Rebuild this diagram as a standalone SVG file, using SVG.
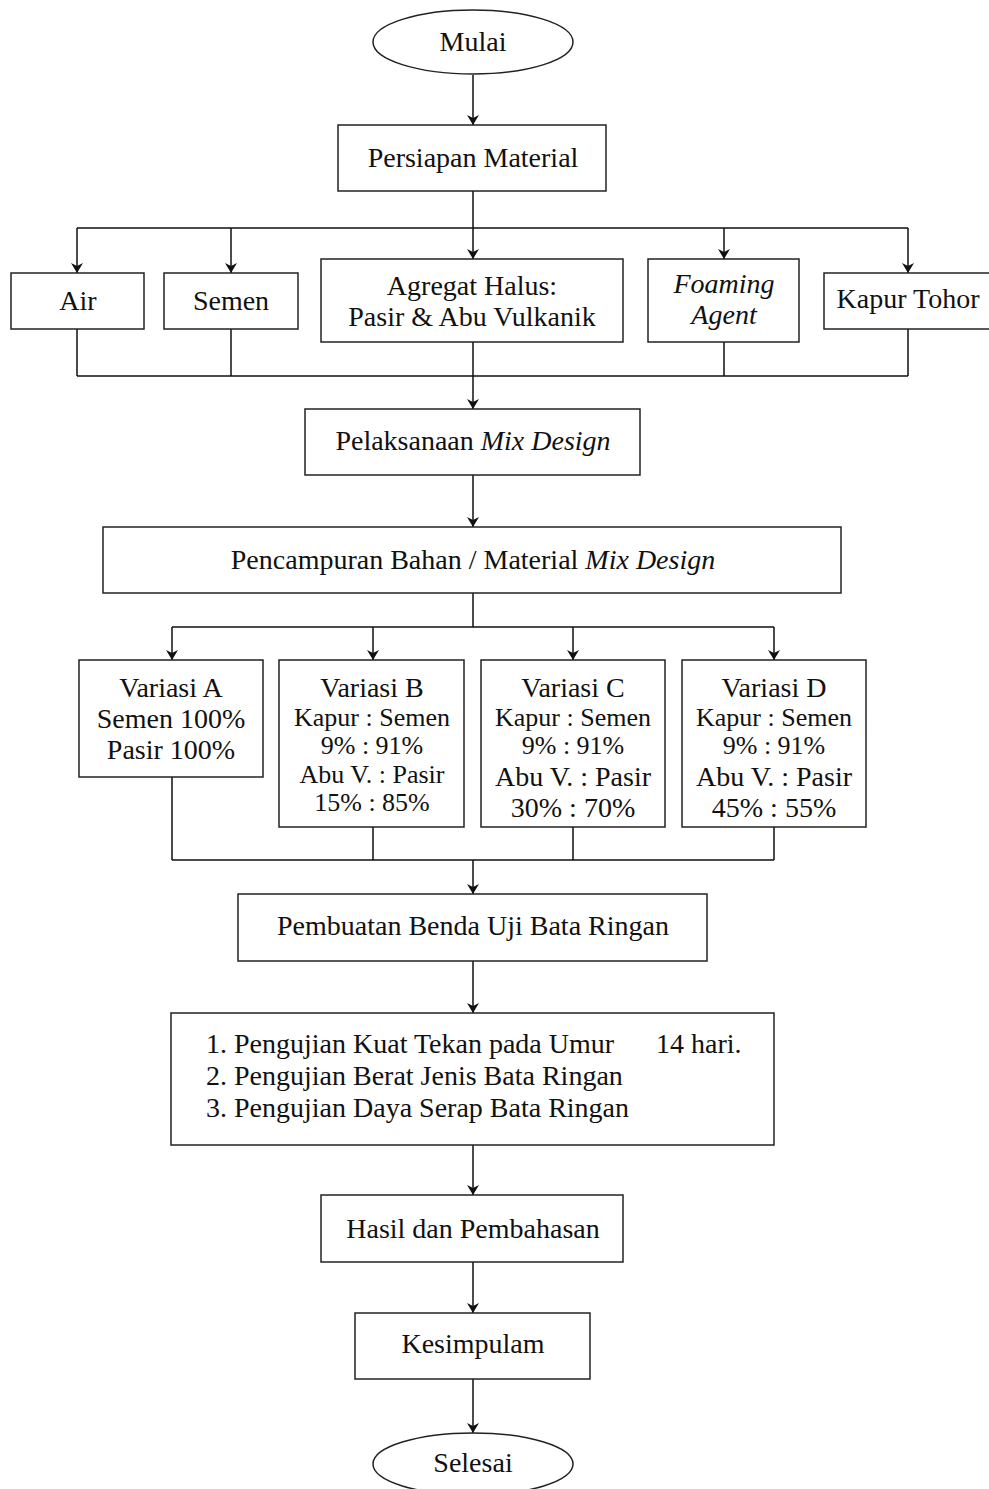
<svg xmlns="http://www.w3.org/2000/svg" width="989" height="1489" viewBox="0 0 989 1489">
<style>
.b{fill:#fff;stroke:#222;stroke-width:1.5}
.l{fill:none;stroke:#111;stroke-width:1.5}
.a{fill:none;stroke:#111;stroke-width:1.5;marker-end:url(#ah)}
text{font-family:"Liberation Serif","Times New Roman",serif;font-size:28px;fill:#111;text-anchor:middle}
.s{font-size:26px}
.i{font-style:italic}
.lt{text-anchor:start}
</style>
<defs>
<marker id="ah" viewBox="0 0 10 14" refX="10" refY="7" markerWidth="11" markerHeight="14" markerUnits="userSpaceOnUse" orient="auto">
<path d="M0,1 L10,7 L0,13 L3,7 Z" fill="#111"/>
</marker>
</defs>
<rect width="989" height="1489" fill="#fff"/>
<g id="connectors">
<path class="a" d="M473,75 V125"/>
<path class="l" d="M473,191 V228 M77,228 H908"/>
<path class="a" d="M77,228 V273"/>
<path class="a" d="M231,228 V273"/>
<path class="a" d="M473,228 V259"/>
<path class="a" d="M724,228 V259"/>
<path class="a" d="M908,228 V273"/>
<path class="l" d="M77,329 V376 M231,329 V376 M724,342 V376 M908,329 V376 M77,376 H908"/>
<path class="a" d="M473,342 V409"/>
<path class="a" d="M473,475 V527"/>
<path class="l" d="M473,593 V627 M172,627 H774"/>
<path class="a" d="M172,627 V660"/>
<path class="a" d="M373,627 V660"/>
<path class="a" d="M573,627 V660"/>
<path class="a" d="M774,627 V660"/>
<path class="l" d="M172,777 V860 M373,827 V860 M573,827 V860 M774,827 V860 M172,860 H774"/>
<path class="a" d="M473,860 V894"/>
<path class="a" d="M473,961 V1013"/>
<path class="a" d="M473,1145 V1195"/>
<path class="a" d="M473,1262 V1313"/>
<path class="a" d="M473,1379 V1433"/>
</g>
<g id="mulai"><ellipse class="b" cx="473" cy="42" rx="100" ry="32"/><text x="473" y="51">Mulai</text></g>
<g id="persiapan"><rect class="b" x="338" y="125" width="268" height="66"/><text x="473" y="167">Persiapan Material</text></g>
<g id="air"><rect class="b" x="11" y="273" width="133" height="56"/><text x="78" y="310">Air</text></g>
<g id="semen"><rect class="b" x="164" y="273" width="134" height="56"/><text x="231" y="310">Semen</text></g>
<g id="agregat"><rect class="b" x="321" y="259" width="302" height="83"/><text x="472" y="295">Agregat Halus:</text><text x="472" y="326">Pasir &amp; Abu Vulkanik</text></g>
<g id="foaming"><rect class="b" x="648" y="259" width="151" height="83"/><text class="i" x="724" y="293">Foaming</text><text class="i" x="724" y="324">Agent</text></g>
<g id="kapur"><rect class="b" x="824" y="273" width="170" height="56"/><text x="908" y="308">Kapur Tohor</text></g>
<g id="pelaksanaan"><rect class="b" x="305" y="409" width="335" height="66"/><text x="473" y="450">Pelaksanaan <tspan class="i">Mix Design</tspan></text></g>
<g id="pencampuran"><rect class="b" x="103" y="527" width="738" height="66"/><text x="473" y="569">Pencampuran Bahan / Material <tspan class="i">Mix Design</tspan></text></g>
<g id="variasiA"><rect class="b" x="79" y="660" width="184" height="117"/><text x="171" y="697">Variasi A</text><text x="171" y="728">Semen 100%</text><text x="171" y="759">Pasir 100%</text></g>
<g id="variasiB"><rect class="b" x="279" y="660" width="185" height="167"/><text x="372" y="697">Variasi B</text><text class="s" x="372" y="726">Kapur : Semen</text><text class="s" x="372" y="754">9% : 91%</text><text class="s" x="372" y="783">Abu V. : Pasir</text><text class="s" x="372" y="811">15% : 85%</text></g>
<g id="variasiC"><rect class="b" x="481" y="660" width="184" height="167"/><text x="573" y="697">Variasi C</text><text class="s" x="573" y="726">Kapur : Semen</text><text class="s" x="573" y="754">9% : 91%</text><text x="573" y="786">Abu V. : Pasir</text><text x="573" y="817">30% : 70%</text></g>
<g id="variasiD"><rect class="b" x="682" y="660" width="184" height="167"/><text x="774" y="697">Variasi D</text><text class="s" x="774" y="726">Kapur : Semen</text><text class="s" x="774" y="754">9% : 91%</text><text x="774" y="786">Abu V. : Pasir</text><text x="774" y="817">45% : 55%</text></g>
<g id="pembuatan"><rect class="b" x="238" y="894" width="469" height="67"/><text x="473" y="935">Pembuatan Benda Uji Bata Ringan</text></g>
<g id="pengujian"><rect class="b" x="171" y="1013" width="603" height="132"/>
<text class="lt" x="206" y="1053">1. Pengujian Kuat Tekan pada Umur</text><text class="lt" x="656" y="1053">14 hari.</text>
<text class="lt" x="206" y="1085">2. Pengujian Berat Jenis Bata Ringan</text>
<text class="lt" x="206" y="1117">3. Pengujian Daya Serap Bata Ringan</text></g>
<g id="hasil"><rect class="b" x="321" y="1195" width="302" height="67"/><text x="473" y="1238">Hasil dan Pembahasan</text></g>
<g id="kesimpulam"><rect class="b" x="355" y="1313" width="235" height="66"/><text x="473" y="1353">Kesimpulam</text></g>
<g id="selesai"><ellipse class="b" cx="473" cy="1464" rx="100" ry="31"/><text x="473" y="1472">Selesai</text></g>
</svg>
